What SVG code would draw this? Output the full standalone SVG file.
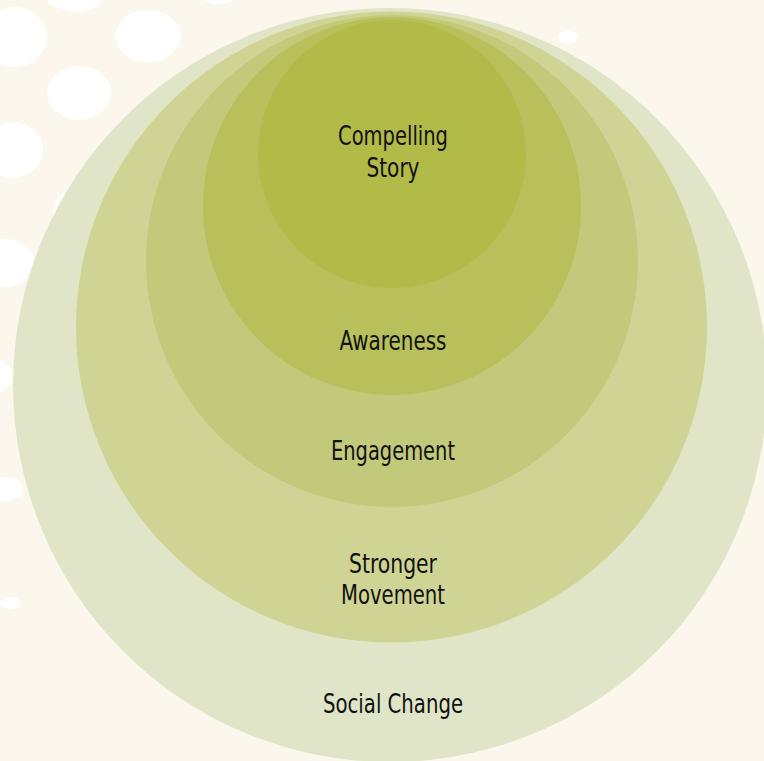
<svg xmlns="http://www.w3.org/2000/svg" width="764" height="761" viewBox="0 0 764 761">
<style>
.blob{fill:#ffffff}
.lbl{font-family:"Liberation Sans Narrow","DejaVu Sans Condensed","Liberation Sans",sans-serif;font-size:27px;fill:#111111;text-anchor:middle}
</style>
<rect width="764" height="761" fill="#fbf7ec"/>
<g id="background-blobs">
<ellipse class="blob" cx="75" cy="-10" rx="32" ry="22"/>
<ellipse class="blob" cx="218" cy="-8" rx="22" ry="12"/>
<ellipse class="blob" cx="14" cy="37" rx="33" ry="30"/>
<ellipse class="blob" cx="148" cy="36" rx="33" ry="26"/>
<ellipse class="blob" cx="79" cy="93" rx="32" ry="27"/>
<ellipse class="blob" cx="12" cy="150" rx="31" ry="28"/>
<ellipse class="blob" cx="85" cy="213" rx="32" ry="28"/>
<ellipse class="blob" cx="5" cy="263" rx="30" ry="24"/>
<ellipse class="blob" cx="-5" cy="376" rx="18" ry="16"/>
<ellipse class="blob" cx="7" cy="489" rx="16" ry="12"/>
<ellipse class="blob" cx="10" cy="603" rx="10" ry="6"/>
<ellipse class="blob" cx="568" cy="37" rx="10" ry="7"/>
</g>
<g id="social-change">
<circle cx="390" cy="385" r="377" fill="#e1e5c7"/>
<text class="lbl" x="393" y="713" textLength="140" lengthAdjust="spacingAndGlyphs">Social Change</text>
</g>
<g id="stronger-movement">
<circle cx="391.5" cy="327" r="315.5" fill="#cfd495"/>
<text class="lbl" x="393" y="573" textLength="88" lengthAdjust="spacingAndGlyphs">Stronger</text>
<text class="lbl" x="393" y="604" textLength="104" lengthAdjust="spacingAndGlyphs">Movement</text>
</g>
<g id="engagement">
<circle cx="392" cy="261" r="246" fill="#c3c97a"/>
<text class="lbl" x="393" y="460" textLength="124" lengthAdjust="spacingAndGlyphs">Engagement</text>
</g>
<g id="awareness">
<circle cx="392" cy="206" r="189" fill="#b8c05c"/>
<text class="lbl" x="393" y="350" textLength="107" lengthAdjust="spacingAndGlyphs">Awareness</text>
</g>
<g id="compelling-story">
<circle cx="392" cy="154" r="134" fill="#b2ba48"/>
<text class="lbl" x="393" y="145" textLength="110" lengthAdjust="spacingAndGlyphs">Compelling</text>
<text class="lbl" x="393" y="177" textLength="53" lengthAdjust="spacingAndGlyphs">Story</text>
</g>
<g id="connectors"/>
</svg>
